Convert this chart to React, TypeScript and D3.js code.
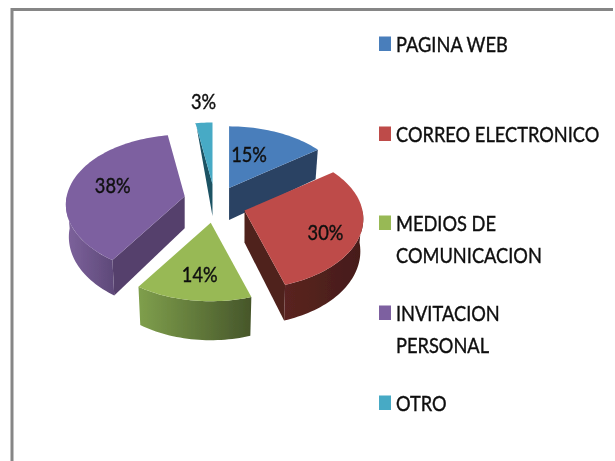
import React from "react";
import * as d3 from "d3";

// ---- data ----
const categories = ["PAGINA WEB", "CORREO ELECTRONICO", "MEDIOS DE COMUNICACION", "INVITACION PERSONAL", "OTRO"];
const shares = [15.0, 30.0, 14.4, 38.0, 2.6];
const legendLines = [["PAGINA WEB"], ["CORREO ELECTRONICO"], ["MEDIOS DE", "COMUNICACION"], ["INVITACION", "PERSONAL"], ["OTRO"]];
const topColors = ["#4a7ebb", "#be4b48", "#98b954", "#7d60a0", "#46aac5"];
const cutColors = ["#2a4263", "#4f201c", "#4f6030", "#553f6c", "#1d5264"];
const wallLeft = ["#2a4263", "#5a2420", "#7f9f4c", "#7d629c", "#2a6f82"];
const wallRight = ["#2a4263", "#451c19", "#46562a", "#5f4a7a", "#2a6f82"];

// ---- layout ----
const W = 615, H = 461;
const cx = 215, cy = 204, explodeX = 31, explodeY = 18;
const R = 118, Rt = 70, persp = 0.12, depth0 = 32;
const nudgeY = [0, 1, 1, -4, -2];
const depthExtra = [0, 0, 3, 0, 0];
const labelOffset: [number, number][] = [[20, -33], [81, 22], [-11, 52], [-72, -10], [-9, -82]];
const drawOrder = [4, 0, 3, 1, 2];
const legendBaselines = [52, 142, 231, 321, 411];
const lineStep = 32;
const textSqueeze = 0.89;

const slices = d3.pie<number>().sort(null).value((d) => d)(shares);

const proj = (a: number) => {
  const u = Math.sin(a), v = -Math.cos(a);
  const s = 1 + persp * v;
  return { x: R * u * s, y: Rt * v * s, v };
};
const depthAt = (v: number) => (v < -0.95 ? 0 : depth0 + 4 * v);
const line = d3.line<[number, number]>().x((d) => d[0]).y((d) => d[1]);

const sample = (a0: number, a1: number) => {
  const n = Math.max(2, Math.ceil(Math.abs(a1 - a0) / 0.03));
  return d3.range(n + 1).map((i) => a0 + ((a1 - a0) * i) / n);
};

export default function App() {
  const parts = drawOrder.map((i) => {
    const s = slices[i];
    const mid = (s.startAngle + s.endAngle) / 2;
    const ax = cx + explodeX * Math.sin(mid);
    const ay = cy - explodeY * Math.cos(mid) + nudgeY[i];
    const rim = sample(s.startAngle, s.endAngle).map((a) => {
      const p = proj(a);
      return [ax + p.x, ay + p.y] as [number, number];
    });
    const top = line([[ax, ay], ...rim]) + "Z";
    const low = (a: number): [number, number] => {
      const p = proj(a);
      return [ax + p.x * 0.975, ay + p.y + depthAt(p.v) + depthExtra[i]];
    };
    const w0 = Math.max(s.startAngle, Math.PI / 2);
    const w1 = Math.min(s.endAngle, (3 * Math.PI) / 2);
    let wall: string | null = null;
    let wx0 = 0, wx1 = 0;
    if (w1 > w0) {
      const as = sample(w0, w1);
      const up = as.map((a) => {
        const p = proj(a);
        return [ax + p.x, ay + p.y] as [number, number];
      });
      const dn = as.map(low).reverse();
      wall = line([...up, ...dn]) + "Z";
      wx0 = Math.min(up[0][0], up[up.length - 1][0]);
      wx1 = Math.max(up[0][0], up[up.length - 1][0]);
    }
    const face = (a: number) => {
      const p = proj(a);
      const c: [number, number] = [ax + p.x, ay + p.y];
      return line([[ax, ay], c, low(a), [ax, ay + depth0]]) + "Z";
    };
    const cuts: string[] = [];
    if (i === 0 || i === 1) cuts.push(face(s.endAngle));
    if (i === 3 || i === 4) cuts.push(face(s.startAngle));
    return { i, top, wall, wx0, wx1, cuts, lx: ax + labelOffset[i][0], ly: ay + labelOffset[i][1] };
  });

  const fontFamily = "Lato, Carlito, sans-serif";
  const textStyle = { fontFamily, fontSize: 20.5, fill: "#111", stroke: "#111", strokeWidth: 0.4 } as const;

  return (
    <svg width={W} height={H} viewBox={`0 0 ${W} ${H}`} style={{ position: "absolute", left: 0, top: 0, background: "#fff" }}>
      <defs>
        <filter id="soft" x="-5%" y="-5%" width="110%" height="110%">
          <feGaussianBlur stdDeviation="0.65" />
        </filter>
        {parts.map((p) => (
          <linearGradient key={p.i} id={`wall${p.i}`} gradientUnits="userSpaceOnUse" x1={p.wx0} x2={p.wx1 || 1} y1={0} y2={0}>
            <stop offset="0" stopColor={wallLeft[p.i]} />
            <stop offset="1" stopColor={wallRight[p.i]} />
          </linearGradient>
        ))}
      </defs>
      <g filter="url(#soft)">
        <path d="M12,461V9.5H613" fill="none" stroke="#868686" strokeWidth={3} />
        {parts.map((p) => (
          <g key={p.i}>
            {p.cuts.map((d, k) => (
              <path key={k} d={d} fill={cutColors[p.i]} />
            ))}
            {p.wall && <path d={p.wall} fill={`url(#wall${p.i})`} />}
            <path d={p.top} fill={topColors[p.i]} />
          </g>
        ))}
        {parts.map((p) => (
          <text key={p.i} transform={`translate(${p.lx},${p.ly + 7}) scale(${textSqueeze},1)`} textAnchor="middle" {...textStyle}>
            {`${Math.round(shares[p.i])}%`}
          </text>
        ))}
        {categories.map((c, i) => (
          <g key={c}>
            <rect x={379} y={legendBaselines[i] - 15.5} width={12} height={14.5} fill={topColors[i]} />
            {legendLines[i].map((l, k) => (
              <text key={l} transform={`translate(396,${legendBaselines[i] + k * lineStep}) scale(${textSqueeze},1)`} {...textStyle}>
                {l}
              </text>
            ))}
          </g>
        ))}
      </g>
    </svg>
  );
}
